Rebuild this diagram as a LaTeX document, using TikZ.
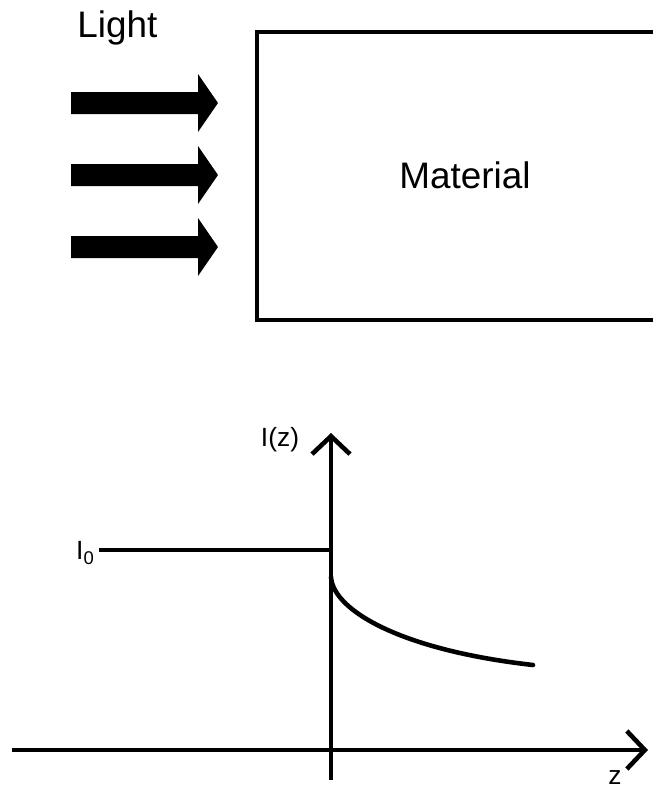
\documentclass[tikz,border=0pt]{standalone}
\usepackage{fontspec}
\setmainfont{Liberation Sans}
\usetikzlibrary{arrows.meta}

\tikzset{
	thickline/.style={line width=2.6pt},
	axis/.style={thickline, -{Straight Barb[length=3.6mm, width=7.6mm, line width=2.6pt]}},
	bigtext/.style={font=\fontsize{21}{25}\selectfont, inner sep=0pt},
	smalltext/.style={font=\fontsize{15}{18}\selectfont, inner sep=0pt}
}

\begin{document}
\begin{tikzpicture}[x=0.02cm, y=-0.02cm]
	\useasboundingbox (0,0) rectangle (653,796);
	% sample and incoming light
	\draw[thickline] (653,32) -- (257,32) -- (257,320) -- (653,320);
	\node[bigtext] (material) at (465,175) {Material};
	\node[bigtext, anchor=base west] (light) at (77,37) {Light};
	\foreach \y in {103,175,247} {\fill (71,\y-11) -- (198,\y-11) -- (198,\y-29) -- (218,\y) -- (198,\y+29) -- (198,\y+11) -- (71,\y+11) -- cycle;}
	% intensity plot
	\coordinate (zstart) at (12,750);
	\coordinate (zend) at (648,750);
	\coordinate (ibottom) at (331,780);
	\coordinate (itop) at (331,433);
	\draw[axis] (zstart) -- (zend);
	\draw[axis] (ibottom) -- (itop);
	\node[smalltext] (zlabel) at (615,778) {z};
	\node[smalltext] (ilabel) at (280,440) {I(z)};
	\node[smalltext, anchor=east] (izero) at (95,553) {I\textsubscript{0}};
	\coordinate (jump) at (331,550);
	\draw[thickline] (izero.east |- jump) ++(4,0) -- (jump);
	\coordinate (dstart) at (331,577);
	\coordinate (dend) at (533,665);
	\draw[thickline, line cap=round] (dstart) .. controls (333,610) and (400,650) .. (dend);
\end{tikzpicture}
\end{document}
